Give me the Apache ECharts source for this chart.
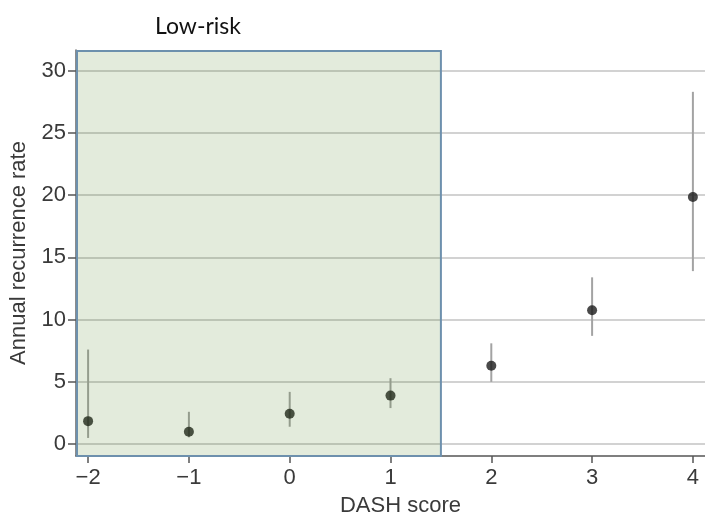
<!DOCTYPE html>
<html>
<head>
<meta charset="utf-8">
<script src="https://cdn.jsdelivr.net/npm/echarts@6/dist/echarts.min.js"></script>
<style>
  html, body { margin: 0; padding: 0; background: #fff; }
  #chart { width: 705px; height: 522px; }
</style>
</head>
<body>
<div id="chart"></div>
<script>
// DASH score vs annual recurrence rate
var scores = [-2, -1, 0, 1, 2, 3, 4];
var rates = [1.85, 1.0, 2.45, 3.9, 6.3, 10.75, 19.85];
var lower = [0.5, 0.55, 1.4, 2.9, 5.0, 8.7, 13.9];
var upper = [7.6, 2.6, 4.2, 5.3, 8.1, 13.4, 28.3];
var yTicks = [0, 5, 10, 15, 20, 25, 30];
var xTicks = [-2, -1, 0, 1, 2, 3, 4];
var lowRiskEnd = 1.5;

var xMin = -2.12, xMax = 4.12;
var yMin = -0.95, yMax = 31.66;

var points = scores.map(function (s, i) { return [s, rates[i]]; });
var bars = scores.map(function (s, i) { return [s, lower[i], upper[i]]; });

var myChart = echarts.init(document.getElementById("chart"));
var sans = "'Liberation Sans', Arial, Helvetica, sans-serif";
var axisFont = { fontFamily: sans, fontSize: 22, color: "#3a3a3a" };

var option = {
  backgroundColor: "#fff",
  animation: false,
  title: {
    text: "Low-risk",
    left: 193,
    top: 10,
    textAlign: "center",
    textStyle: { fontFamily: "Lato", fontSize: 23, fontWeight: "normal", color: "#111" }
  },
  grid: { left: 76, right: 0, top: 50, bottom: 62 },
  xAxis: {
    type: "value",
    min: xMin,
    max: xMax,
    name: "DASH score",
    nameLocation: "middle",
    nameGap: 39,
    nameTextStyle: { fontFamily: sans, fontSize: 22, color: "#3a3a3a", padding: [0, 0, 0, 20] },
    axisLine: { show: true, onZero: false, lineStyle: { color: "#555", width: 1.5 } },
    axisTick: { show: true, length: 7, customValues: xTicks, lineStyle: { color: "#555", width: 1.5 } },
    axisLabel: {
      customValues: xTicks,
      margin: 11,
      fontFamily: sans, fontSize: 22, color: "#3a3a3a",
      formatter: function (v) { return String(v).replace("-", "\u2212"); }
    },
    splitLine: { show: false }
  },
  yAxis: {
    type: "value",
    min: yMin,
    max: yMax,
    name: "Annual recurrence rate",
    nameLocation: "middle",
    nameGap: 46,
    nameTextStyle: axisFont,
    axisLine: { show: true, onZero: false, lineStyle: { color: "#666", width: 1.5 } },
    axisTick: { show: true, length: 8, customValues: yTicks, lineStyle: { color: "#555", width: 1.5 } },
    axisLabel: {
      customValues: yTicks,
      margin: 10,
      fontFamily: sans, fontSize: 22, color: "#3a3a3a"
    },
    splitLine: { show: true, lineStyle: { color: "#d2d2d2", width: 2 } }
  },
  series: [
    {
      type: "custom",
      name: "ci",
      z: 2,
      data: bars,
      renderItem: function (params, api) {
        var a = api.coord([api.value(0), api.value(1)]);
        var b = api.coord([api.value(0), api.value(2)]);
        return {
          type: "line",
          shape: { x1: a[0], y1: a[1], x2: b[0], y2: b[1] },
          style: { stroke: "#a3a3a3", lineWidth: 2 }
        };
      }
    },
    {
      type: "scatter",
      name: "rate",
      z: 3,
      data: points,
      symbol: "circle",
      symbolSize: 10,
      itemStyle: { color: "#1c1c1c" }
    },
    {
      type: "custom",
      name: "low-risk",
      z: 10,
      data: [[xMin, lowRiskEnd]],
      renderItem: function (params, api) {
        var p1 = api.coord([api.value(0), yMax]);
        var p2 = api.coord([api.value(1), yMin]);
        return {
          type: "rect",
          shape: { x: p1[0] + 1, y: p1[1] + 1, width: p2[0] - p1[0] - 1, height: p2[1] - p1[1] - 1 },
          style: { fill: "rgba(68,122,22,0.15)", stroke: "#6d90ad", lineWidth: 2 }
        };
      }
    }
  ]
};
myChart.setOption(option);
</script>
</body>
</html>
